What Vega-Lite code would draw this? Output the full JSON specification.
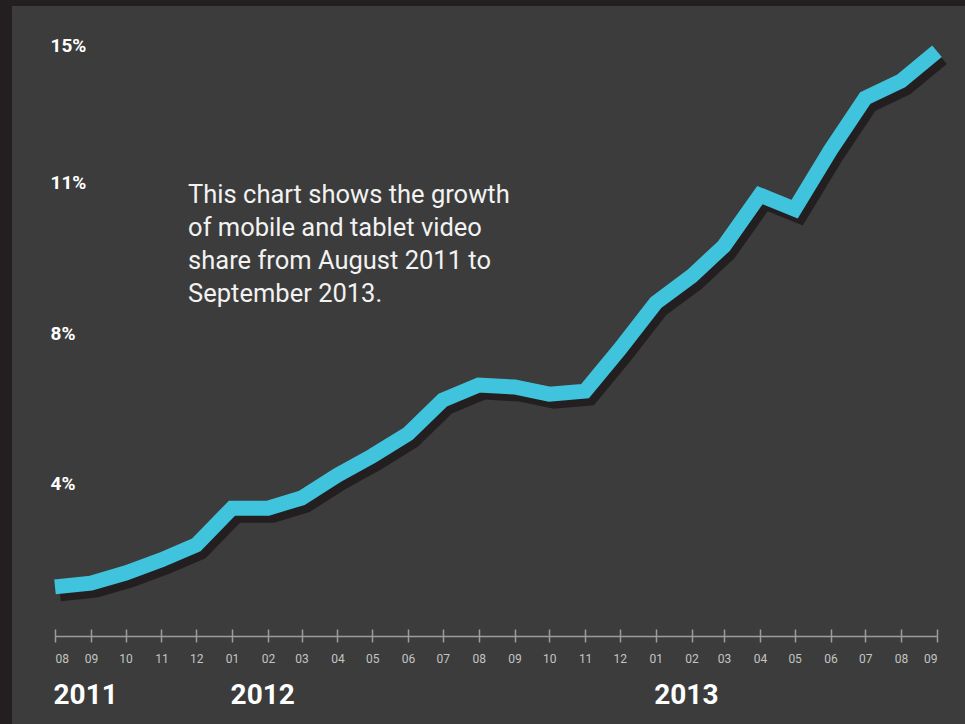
{
  "$schema": "https://vega.github.io/schema/vega-lite/v6.json",
  "width": 953,
  "height": 718,
  "autosize": {"type": "none"},
  "padding": {"left": 12, "top": 6, "right": 0, "bottom": 0},
  "background": "#231f20",
  "config": {
    "view": {"fill": "#3b3c3b", "stroke": null},
    "font": "Roboto"
  },
  "data": {
    "values": [
      {"month": "2011-08-01T00:00", "share": 1.23},
      {"month": "2011-09-01T00:00", "share": 1.33},
      {"month": "2011-10-01T00:00", "share": 1.60},
      {"month": "2011-11-01T00:00", "share": 1.95},
      {"month": "2011-12-01T00:00", "share": 2.35},
      {"month": "2012-01-01T00:00", "share": 3.33},
      {"month": "2012-02-01T00:00", "share": 3.33},
      {"month": "2012-03-01T00:00", "share": 3.60},
      {"month": "2012-04-01T00:00", "share": 4.21},
      {"month": "2012-05-01T00:00", "share": 4.72},
      {"month": "2012-06-01T00:00", "share": 5.31},
      {"month": "2012-07-01T00:00", "share": 6.21},
      {"month": "2012-08-01T00:00", "share": 6.61},
      {"month": "2012-09-01T00:00", "share": 6.56},
      {"month": "2012-10-01T00:00", "share": 6.37},
      {"month": "2012-11-01T00:00", "share": 6.45},
      {"month": "2012-12-01T00:00", "share": 7.57},
      {"month": "2013-01-01T00:00", "share": 8.60},
      {"month": "2013-02-01T00:00", "share": 9.13},
      {"month": "2013-03-01T00:00", "share": 9.73},
      {"month": "2013-04-01T00:00", "share": 10.74},
      {"month": "2013-05-01T00:00", "share": 10.46},
      {"month": "2013-06-01T00:00", "share": 11.93},
      {"month": "2013-07-01T00:00", "share": 13.45},
      {"month": "2013-08-01T00:00", "share": 13.95},
      {"month": "2013-09-01T00:00", "share": 14.82}
    ]
  },
  "resolve": {"axis": {"x": "independent"}},
  "layer": [
    {
      "mark": {"type": "line", "color": "#231f20", "strokeWidth": 15, "strokeCap": "butt", "strokeJoin": "miter", "xOffset": 5, "yOffset": 7},
      "encoding": {
        "x": {
          "field": "month", "type": "temporal",
          "scale": {"domain": [{"year": 2011, "month": 8, "date": 1}, {"year": 2013, "month": 9, "date": 1}], "range": [43, 925], "nice": false},
          "axis": {
            "orient": "bottom", "offset": -88, "title": null,
            "values": [{"year": 2011, "month": 8, "date": 1}, {"year": 2012, "month": 1, "date": 1}, {"year": 2013, "month": 1, "date": 1}],
            "format": "%Y", "domain": false, "ticks": false, "grid": false,
            "labelFontSize": 28, "labelFontWeight": "bold", "labelColor": "#ffffff",
            "labelAlign": "left", "labelBaseline": "alphabetic", "labelPadding": 67, "labelOffset": -2, "labelFont": "Roboto"
          }
        },
        "y": {
          "field": "share", "type": "quantitative",
          "scale": {"type": "linear", "domain": [0, 4, 8, 11, 15], "range": [627, 477, 327, 176, 39], "nice": false, "zero": false},
          "axis": {
            "title": null, "values": [4, 8, 11, 15], "labelExpr": "datum.value + '%'",
            "domain": false, "ticks": false, "grid": false,
            "labelAlign": "left", "labelBaseline": "middle", "labelPadding": -38,
            "labelFontSize": 19, "labelFontWeight": "bold", "labelColor": "#ffffff", "labelFont": "Roboto"
          }
        }
      }
    },
    {
      "mark": {"type": "line", "color": "#40c4dd", "strokeWidth": 15, "strokeCap": "butt", "strokeJoin": "miter"},
      "encoding": {
        "x": {
          "field": "month", "type": "temporal",
          "axis": {
            "orient": "bottom", "offset": -88, "title": null,
            "tickCount": {"interval": "month", "step": 1}, "format": "%m",
            "domain": true, "domainColor": "#9c9c9c", "domainWidth": 1.5,
            "ticks": true, "tickColor": "#9c9c9c", "tickWidth": 1.5, "tickSize": 6,
            "grid": false, "labelFontSize": 12, "labelColor": "#c4c4c4",
            "labelBaseline": "alphabetic", "labelPadding": 20, "labelFont": "Roboto"
          }
        },
        "y": {"field": "share", "type": "quantitative"}
      }
    },
    {
      "data": {"values": [{"note": "This chart shows the growth\nof mobile and tablet video\nshare from August 2011 to\nSeptember 2013."}]},
      "mark": {"type": "text", "align": "left", "baseline": "alphabetic", "lineBreak": "\n", "lineHeight": 33, "fontSize": 25.5, "color": "#f2f2f2", "font": "Roboto", "fontWeight": "normal"},
      "encoding": {
        "x": {
          "datum": {"year": 2011, "month": 11, "date": 24}, "type": "temporal",
          "axis": {
            "orient": "bottom", "offset": -88, "title": null,
            "tickCount": {"interval": "month", "step": 1},
            "domain": false, "labels": false, "grid": false,
            "ticks": true, "tickColor": "#9c9c9c", "tickWidth": 1.5, "tickSize": -7
          }
        },
        "y": {"datum": 10.58, "type": "quantitative"},
        "text": {"field": "note"}
      }
    }
  ]
}
